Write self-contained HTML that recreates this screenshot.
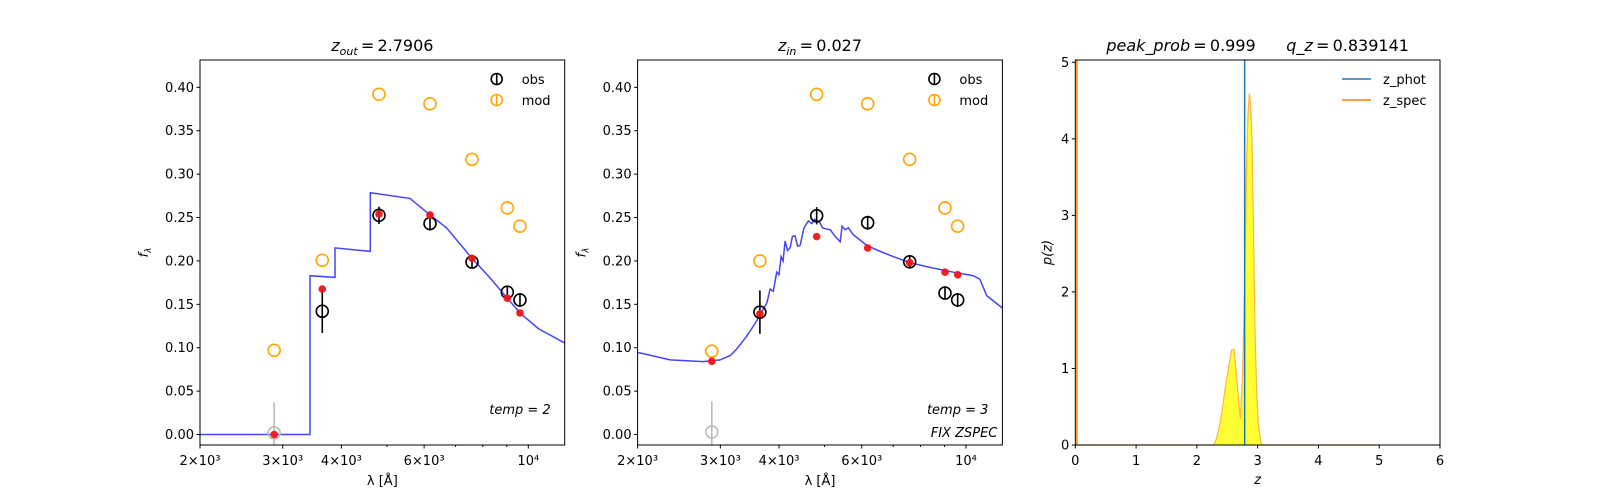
<!DOCTYPE html>
<html><head><meta charset="utf-8"><style>
body{margin:0;background:#fff;}
svg{display:block;font-family:"DejaVu Sans","Liberation Sans",sans-serif;}
</style></head><body>
<svg id="fig" width="1600" height="500" viewBox="0 0 1600 500" xmlns="http://www.w3.org/2000/svg"></svg>
<script>
// ---- data ----
const lamBands = [2877, 3642, 4810, 6176, 7588, 9022, 9600];
const p1Obs = [0.002, 0.142, 0.2525, 0.243, 0.1987, 0.164, 0.155];
const p1Err = [0.035, 0.025, 0.010, 0.008, 0.007, 0.007, 0.008];
const p1Mod = [0.097, 0.2007, 0.392, 0.381, 0.317, 0.261, 0.240];
const p1Fit = [0.0, 0.1676, 0.254, 0.253, 0.203, 0.157, 0.140];
const p1SedLam = [2000, 3430, 3430, 3876, 3876, 4609, 4609, 5599, 6176, 6700, 7588, 8300, 9022, 9600, 10500, 12000];
const p1SedFlux = [0, 0, 0.183, 0.181, 0.215, 0.211, 0.2786, 0.272, 0.253, 0.238, 0.203, 0.180, 0.157, 0.140, 0.122, 0.105];
const p2Obs = [0.003, 0.141, 0.252, 0.244, 0.199, 0.163, 0.155];
const p2Err = [0.035, 0.025, 0.010, 0.008, 0.007, 0.007, 0.008];
const p2Mod = [0.096, 0.200, 0.392, 0.381, 0.317, 0.261, 0.240];
const p2Fit = [0.0843, 0.139, 0.228, 0.215, 0.198, 0.187, 0.184];
const p2SedLam = [2000, 2024, 2345, 2760, 2996, 3150, 3251, 3400, 3527, 3620, 3705, 3770, 3828, 3890, 3954, 4000, 4040, 4080, 4120, 4170, 4222, 4270, 4326, 4380, 4435, 4520, 4618, 4700, 4760, 4887, 4950, 5020, 5140, 5250, 5397, 5450, 5530, 5620, 5760, 5950, 6149, 6500, 7000, 7602, 8300, 9400, 10370, 10700, 11070, 12000];
const p2SedFlux = [0.094, 0.094, 0.086, 0.084, 0.086, 0.091, 0.0985, 0.112, 0.125, 0.135, 0.1446, 0.152, 0.1676, 0.165, 0.187, 0.184, 0.205, 0.200, 0.223, 0.212, 0.215, 0.228, 0.229, 0.217, 0.218, 0.238, 0.246, 0.243, 0.248, 0.244, 0.238, 0.237, 0.236, 0.229, 0.222, 0.240, 0.236, 0.238, 0.230, 0.224, 0.218, 0.212, 0.205, 0.198, 0.193, 0.187, 0.183, 0.179, 0.160, 0.145];
const pzZ = [0, 2.28, 2.33, 2.38, 2.42, 2.462, 2.52, 2.572, 2.61, 2.63, 2.654, 2.69, 2.714, 2.75, 2.775, 2.80, 2.819, 2.84, 2.862, 2.88, 2.906, 2.93, 2.956, 2.985, 3.01, 3.05, 3.08, 5.0];
const pzP = [0, 0, 0.1, 0.28, 0.48, 0.72, 1.0, 1.24, 1.25, 1.1, 0.89, 0.55, 0.34, 0.9, 1.72, 2.8, 3.68, 4.3, 4.59, 4.5, 4.03, 2.9, 1.5, 0.7, 0.28, 0.05, 0, 0];
const zPhot = 2.786;
const zSpec = 0.027;
const xTickVals = [2000, 3000, 4000, 6000, 10000];
const xTickLabels = ['2×10³', '3×10³', '4×10³', '6×10³', '10⁴'];
const xMinorVals = [5000, 7000, 8000, 9000];
const yTicks = [0, 0.05, 0.10, 0.15, 0.20, 0.25, 0.30, 0.35, 0.40];
const zTicks = [0, 1, 2, 3, 4, 5, 6];
const pTicks = [0, 1, 2, 3, 4, 5];

const NS = 'http://www.w3.org/2000/svg';
const fig = document.getElementById('fig');
function el(tag, attrs, parent, text) {
  const e = document.createElementNS(NS, tag);
  for (const k in attrs) e.setAttribute(k, attrs[k]);
  if (text !== undefined) e.textContent = text;
  (parent || fig).appendChild(e);
  return e;
}
const TOP = 60, BOT = 445;
const panels = [[200, 564.7], [637.6, 1002.4], [1075.3, 1440]];
const LMIN = 2000, LMAX = 11953, YMIN = -0.0121, YMAX = 0.4315;

function sedPanel(i, obs, err, mod, fit, sl, sf, title, sub, titleVal, tempTxt, fix) {
  const [L, R] = panels[i];
  const g = el('g', {});
  
  
  const xs = v => L + (Math.log10(v) - Math.log10(LMIN)) / (Math.log10(LMAX) - Math.log10(LMIN)) * (R - L);
  const ys = v => BOT - (v - YMIN) / (YMAX - YMIN) * (BOT - TOP);
  const clip = el('clipPath', { id: 'clip' + i }, g);
  el('rect', { x: L, y: TOP, width: R - L, height: BOT - TOP }, clip);
  const plot = el('g', { 'clip-path': 'url(#clip' + i + ')' }, g);
  let d = sl.map((v, k) => (k ? 'L' : 'M') + xs(v).toFixed(1) + ',' + ys(sf[k]).toFixed(1)).join(' ');
  const line = el('path', { d: d, fill: 'none', stroke: '#3b3bf5', 'stroke-width': 1.5, opacity: 0.95 }, plot);
  
  
  lamBands.forEach((l, k) => {
    const c = el('circle', { cx: xs(l), cy: ys(mod[k]), r: 6, fill: 'none', stroke: 'orange', 'stroke-width': 1.6 }, plot);
    
    
  });
  lamBands.forEach((l, k) => {
    const col = k === 0 ? '#bbbbbb' : '#000';
    const x = xs(l);
    const eb = el('line', { x1: x, x2: x, y1: ys(obs[k] - err[k]), y2: ys(obs[k] + err[k]), stroke: col, 'stroke-width': 1.6 }, plot);
    
    
    const c = el('circle', { cx: x, cy: ys(obs[k]), r: 6, fill: 'none', stroke: col, 'stroke-width': 1.6 }, plot);
    
    
  });
  lamBands.forEach((l, k) => {
    const c = el('circle', { cx: xs(l), cy: ys(fit[k]), r: 3.8, fill: '#f01515', opacity: 0.95 }, plot);
    
    
  });
  el('rect', { x: L, y: TOP, width: R - L, height: BOT - TOP, fill: 'none', stroke: '#000', 'stroke-width': 1 }, g);
  yTicks.forEach(v => {
    const y = ys(v);
    el('line', { x1: L - 3.5, x2: L, y1: y, y2: y, stroke: '#000' }, g);
    const t = el('text', { x: L - 6, y: y + 4.5, 'text-anchor': 'end', 'font-size': 13 }, g, v.toFixed(2));
    
    
  });
  xTickVals.forEach((v, k) => {
    const x = xs(v);
    el('line', { x1: x, x2: x, y1: BOT, y2: BOT + 3.5, stroke: '#000' }, g);
    const t = el('text', { x: x, y: BOT + 20, 'text-anchor': 'middle', 'font-size': 13 }, g, xTickLabels[k]);
    
    
  });
  xMinorVals.forEach(v => {
    const x = xs(v);
    el('line', { x1: x, x2: x, y1: BOT, y2: BOT + 2, stroke: '#000' }, g);
  });
  const xl = el('text', { x: (L + R) / 2, y: 485, 'text-anchor': 'middle', 'font-size': 13 }, g, 'λ [Å]');
  
  
  const yl = el('text', { x: 0, y: 0, 'text-anchor': 'middle', 'font-size': 13, 'font-style': 'italic', transform: 'translate(' + (L - 52) + ',' + (TOP + BOT) / 2 + ') rotate(-90)' }, g);
  
  
  el('tspan', {}, yl, 'f');
  el('tspan', { 'font-size': 9, dy: 3 }, yl, 'λ');
  const tt = el('text', { x: (L + R) / 2, y: 51, 'text-anchor': 'middle', 'font-size': 16 }, g);
  
  
  el('tspan', { 'font-style': 'italic' }, tt, 'z');
  el('tspan', { 'font-style': 'italic', 'font-size': 11, dy: 4 }, tt, sub);
  el('tspan', { dy: -4 }, tt, '\u2009=\u2009' + titleVal);
  const lg = el('g', {}, g);
  
  
  [['obs', '#000', 79], ['mod', 'orange', 100]].forEach(([lab, col, y]) => {
    const mx = R - 68;
    el('circle', { cx: mx, cy: y, r: 5.5, fill: 'none', stroke: col, 'stroke-width': 1.6 }, lg);
    el('line', { x1: mx, x2: mx, y1: y - 6, y2: y + 6, stroke: col, 'stroke-width': 1.6 }, lg);
    const t = el('text', { x: R - 43, y: y + 5, 'font-size': 13 }, lg, lab);
    
    
  });
  const tp = el('text', { x: R - 14, y: 414, 'text-anchor': 'end', 'font-size': 13, 'font-style': 'italic' }, g, tempTxt);
  
  
  if (fix) {
    const fx = el('text', { x: R - 5, y: 437, 'text-anchor': 'end', 'font-size': 13, 'font-style': 'italic' }, g, fix);
    
    
  }
}

sedPanel(0, p1Obs, p1Err, p1Mod, p1Fit, p1SedLam, p1SedFlux, '', 'out', '2.7906', 'temp = 2', null);
sedPanel(1, p2Obs, p2Err, p2Mod, p2Fit, p2SedLam, p2SedFlux, '', 'in', '0.027', 'temp = 3', 'FIX ZSPEC');

(function () {
  const [L, R] = panels[2];
  const g = el('g', {});
  
  
  const xs = v => L + v / 6 * (R - L);
  const ys = v => BOT - v / 5.03 * (BOT - TOP);
  let d = pzZ.map((z, k) => (k ? 'L' : 'M') + xs(z).toFixed(1) + ',' + ys(pzP[k]).toFixed(1)).join(' ');
  const fill = el('path', { d: d + ' L' + xs(pzZ[pzZ.length - 1]) + ',' + ys(0) + ' L' + xs(pzZ[0]) + ',' + ys(0) + 'Z', fill: '#ffff33', stroke: 'none' }, g);
  
  
  const ln = el('path', { d: d, fill: 'none', stroke: '#ffb347', 'stroke-width': 1.2 }, g);
  
  
  const zp = el('line', { x1: xs(zPhot), x2: xs(zPhot), y1: TOP, y2: BOT, stroke: '#1f77b4', 'stroke-width': 1.5 }, g);
  
  
  const zs = el('line', { x1: xs(zSpec), x2: xs(zSpec), y1: TOP, y2: BOT, stroke: '#ff7f0e', 'stroke-width': 1.5 }, g);
  
  
  el('rect', { x: L, y: TOP, width: R - L, height: BOT - TOP, fill: 'none', stroke: '#000' }, g);
  zTicks.forEach(v => {
    const x = xs(v);
    el('line', { x1: x, x2: x, y1: BOT, y2: BOT + 3.5, stroke: '#000' }, g);
    const t = el('text', { x: x, y: BOT + 20, 'text-anchor': 'middle', 'font-size': 13 }, g, String(v));
    
    
  });
  pTicks.forEach(v => {
    const y = ys(v);
    el('line', { x1: L - 3.5, x2: L, y1: y, y2: y, stroke: '#000' }, g);
    const t = el('text', { x: L - 6, y: y + 4.5, 'text-anchor': 'end', 'font-size': 13 }, g, String(v));
    
    
  });
  const xl = el('text', { x: (L + R) / 2, y: 484, 'text-anchor': 'middle', 'font-size': 13, 'font-style': 'italic' }, g, 'z');
  
  
  const yl = el('text', { x: 0, y: 0, 'text-anchor': 'middle', 'font-size': 13, 'font-style': 'italic', transform: 'translate(' + (L - 24) + ',' + (TOP + BOT) / 2 + ') rotate(-90)' }, g, 'p(z)');
  
  
  const tt = el('text', { x: (L + R) / 2, y: 51, 'text-anchor': 'middle', 'font-size': 16 }, g);
  
  
  el('tspan', { 'font-style': 'italic' }, tt, 'peak_prob');
  el('tspan', {}, tt, '\u2009=\u20090.999\u00a0\u00a0\u00a0\u00a0\u00a0\u00a0');
  el('tspan', { 'font-style': 'italic' }, tt, 'q_z');
  el('tspan', {}, tt, '\u2009=\u20090.839141');
  const lg = el('g', {}, g);
  
  
  [['z_phot', '#1f77b4', 79], ['z_spec', '#ff7f0e', 100]].forEach(([lab, col, y]) => {
    el('line', { x1: 1342, x2: 1371, y1: y, y2: y, stroke: col, 'stroke-width': 1.6 }, lg);
    const t = el('text', { x: 1383, y: y + 5, 'font-size': 13 }, lg, lab);
    
    
  });
})();
</script>
</body></html>
